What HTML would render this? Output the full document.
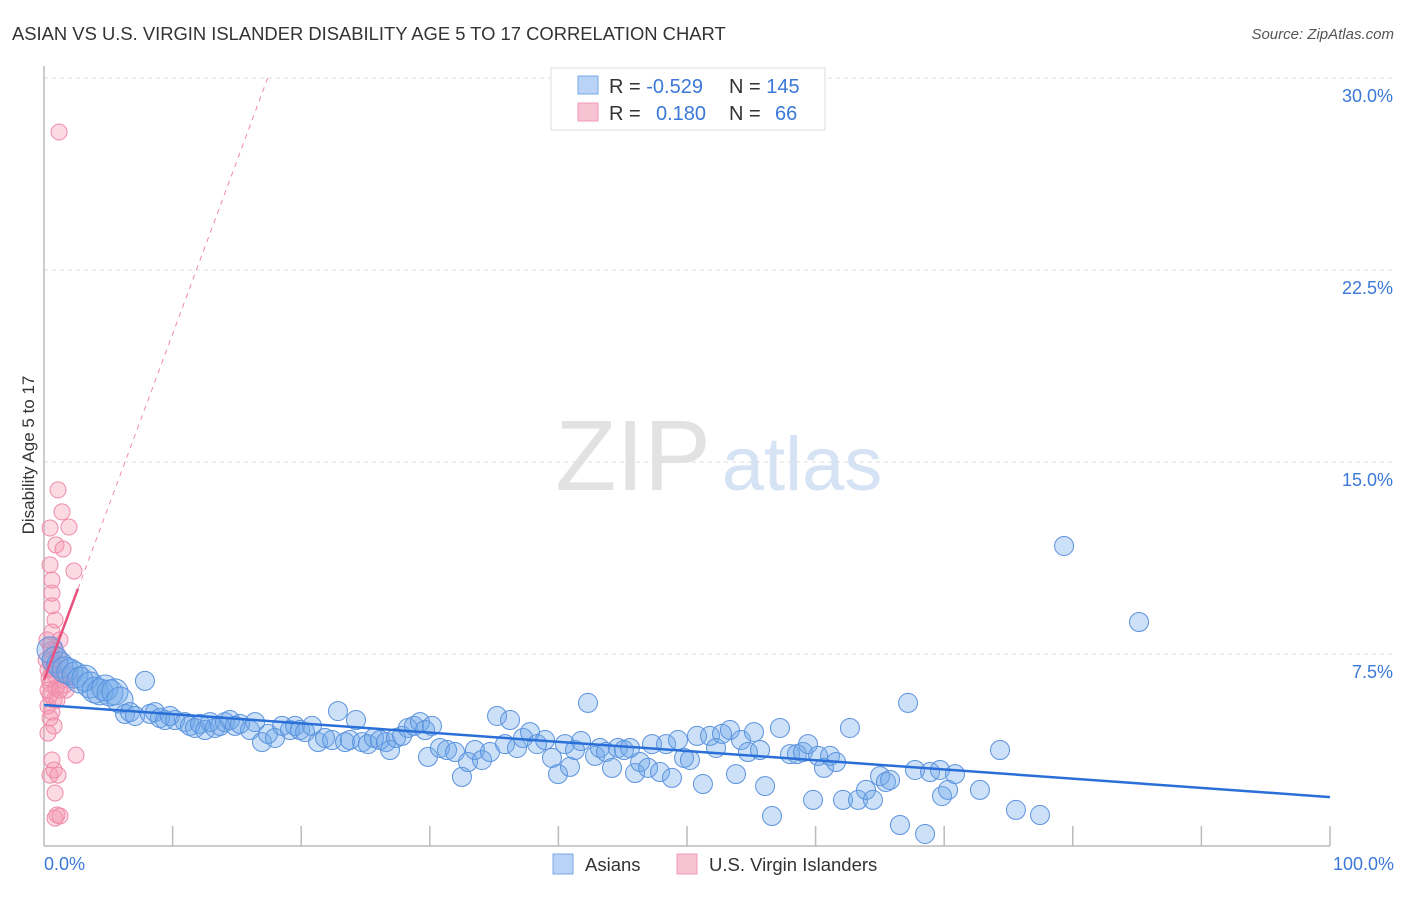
<!DOCTYPE html>
<html><head><meta charset="utf-8"><style>
body{margin:0;background:#fff;font-family:"Liberation Sans",sans-serif;}
svg text{font-family:"Liberation Sans",sans-serif;}
</style></head><body>
<svg id="chart" width="1406" height="892" viewBox="0 0 1406 892">
<text x="12" y="40" font-size="18.4" fill="#333">ASIAN VS U.S. VIRGIN ISLANDER DISABILITY AGE 5 TO 17 CORRELATION CHART</text>
<text x="1394" y="39" font-size="15" fill="#555" text-anchor="end" font-style="italic">Source: ZipAtlas.com</text>
<g>
<text x="633" y="490" font-size="100" fill="#e2e2e2" text-anchor="middle" font-family="Liberation Serif,serif">ZIP</text>
<text x="802" y="490" font-size="76" fill="#d5e3f5" text-anchor="middle">atlas</text>
</g>
<g id="grid"></g>
<g id="axes"></g>
<g id="pink"></g>
<g id="blue"></g>
<g id="trends"></g>
<text transform="translate(34,455) rotate(-90)" font-size="17" fill="#333" text-anchor="middle">Disability Age 5 to 17</text>
<text x="44" y="870" font-size="18" fill="#3b78d8">0.0%</text>
<text x="1394" y="870" font-size="18" fill="#3b78d8" text-anchor="end">100.0%</text>
<g>
<rect x="551" y="68" width="274" height="62" fill="#fff" stroke="#ddd"/>
<rect x="578" y="76" width="20" height="18" fill="#b8d3f5" stroke="#7aa8e8"/>
<rect x="578" y="103" width="20" height="18" fill="#f7c3d2" stroke="#f09ab4"/>
<text x="609" y="93" font-size="20" fill="#333">R = <tspan fill="#3b78d8">-0.529</tspan><tspan x="729">N = </tspan><tspan fill="#3b78d8">145</tspan></text>
<text x="609" y="120" font-size="20" fill="#333">R = <tspan x="656" fill="#3b78d8">0.180</tspan><tspan x="729">N = </tspan><tspan x="775" fill="#3b78d8">66</tspan></text>
</g>
<g>
<rect x="553" y="854" width="20" height="20" fill="#b8d3f5" stroke="#7aa8e8"/>
<text x="585" y="871" font-size="18.5" fill="#333">Asians</text>
<rect x="677" y="854" width="20" height="20" fill="#f7c3d2" stroke="#f09ab4"/>
<text x="709" y="871" font-size="18.5" fill="#333">U.S. Virgin Islanders</text>
</g>
</svg>
<script>
const yTicks=[7.5,15,22.5,30];
const yTickLabels=["7.5%","15.0%","22.5%","30.0%"];
const xTicks=[10,20,30,40,50,60,70,80,90,100];
const bluePx=[[50,650],[55,660],[60,665],[65,670],[70,672],[75,675],[80,680],[85,678],[90,685],[95,690],[100,692],[105,688],[110,693],[115,692],[120,700],[125,714],[130,712],[135,716],[145,681],[150,714],[155,712],[160,718],[165,720],[170,716],[175,720],[185,722],[190,726],[195,728],[200,724],[205,730],[210,722],[215,728],[220,726],[225,722],[230,720],[235,726],[240,724],[250,730],[255,722],[262,742],[268,734],[275,738],[282,726],[290,730],[295,726],[300,730],[305,732],[312,726],[318,742],[325,738],[332,740],[338,711],[345,742],[350,740],[356,720],[362,742],[368,744],[374,738],[380,740],[386,742],[390,750],[396,738],[402,736],[408,728],[414,726],[420,722],[425,730],[432,726],[428,757],[440,748],[447,750],[455,752],[462,777],[468,762],[475,750],[482,760],[490,752],[497,716],[505,744],[510,720],[517,748],[523,738],[530,732],[537,744],[545,740],[552,758],[558,774],[565,744],[570,767],[575,750],[581,741],[588,703],[595,756],[600,748],[606,752],[612,768],[618,748],[624,750],[630,748],[635,773],[640,762],[648,768],[652,744],[660,772],[666,744],[672,778],[678,740],[684,758],[690,760],[697,736],[703,784],[710,736],[716,748],[722,734],[730,730],[736,774],[741,740],[748,752],[754,732],[760,750],[765,786],[772,816],[780,728],[790,754],[797,754],[803,752],[808,744],[813,800],[818,756],[824,768],[830,756],[836,762],[843,800],[850,728],[858,800],[866,790],[873,800],[880,776],[886,782],[890,780],[900,825],[908,703],[915,770],[925,834],[930,772],[940,770],[942,796],[948,790],[955,774],[980,790],[1000,750],[1016,810],[1040,815],[1064,546],[1139,622]];
const pinkPx=[[59,132],[58,490],[62,512],[69,527],[50,528],[56,545],[63,549],[50,565],[74,571],[52,580],[52,593],[52,606],[55,620],[52,632],[60,640],[50,645],[55,650],[58,655],[52,660],[60,665],[48,670],[55,675],[62,680],[50,684],[56,688],[66,690],[50,695],[54,700],[48,706],[52,712],[50,718],[54,726],[48,733],[76,755],[52,760],[54,770],[50,775],[58,775],[55,793],[57,815],[55,818],[60,816],[48,690],[46,660],[70,675],[65,685],[47,640],[53,668],[49,678],[57,700],[51,650],[60,690]];
const blueX=bluePx.map(p=>+((p[0]-44)/12.86).toFixed(2));
const blueY=bluePx.map(p=>+((846-p[1])/25.6).toFixed(2));
const pinkX=pinkPx.map(p=>+((p[0]-44)/12.86).toFixed(2));
const pinkY=pinkPx.map(p=>+((846-p[1])/25.6).toFixed(2));
const blueTrend=[5.51,1.91];
const pinkTrend=[6.48,1.352];

const NS="http://www.w3.org/2000/svg";
const sx=v=>44+v*12.86, sy=v=>846-v*25.6;
function mk(tag,attrs,parent){const e=document.createElementNS(NS,tag);for(const k in attrs)e.setAttribute(k,attrs[k]);document.getElementById(parent).appendChild(e);return e;}
yTicks.forEach((t,i)=>{
 const l=mk('line',{x1:44,x2:1394,y1:sy(t),y2:sy(t),stroke:'#ddd','stroke-dasharray':'4,4'},'grid');
 
 
 const tx=mk('text',{x:1393,y:sy(t)+24,'font-size':18,fill:'#3b78d8','text-anchor':'end'},'grid');
 tx.textContent=yTickLabels[i];
 
 
});
const ya=mk('line',{x1:44,x2:44,y1:66,y2:846,stroke:'#bbb','stroke-width':1.5},'axes');


const xa=mk('line',{x1:44,x2:1330,y1:846,y2:846,stroke:'#bbb','stroke-width':1.5},'axes');


xTicks.forEach(t=>{
 const l=mk('line',{x1:sx(t),x2:sx(t),y1:826,y2:846,stroke:'#bbb','stroke-width':1.5},'axes');
 
 
});
pinkX.forEach((x,i)=>{
 const c=mk('circle',{cx:sx(x),cy:sy(pinkY[i]),r:8,fill:'rgba(244,150,178,0.35)',stroke:'#f08aa8','stroke-width':1},'pink');
 
 
});
blueX.forEach((x,i)=>{
 const r=x<6?13:9.5;
 const c=mk('circle',{cx:sx(x),cy:sy(blueY[i]),r:r,fill:'rgba(110,165,232,0.35)',stroke:'#5b93de','stroke-width':1},'blue');
 
 
});
const bt=mk('line',{x1:sx(0),y1:sy(blueTrend[0]),x2:sx(100),y2:sy(blueTrend[1]),stroke:'#2a6fd8','stroke-width':2.5},'trends');


const xEnd=(30-pinkTrend[0])/pinkTrend[1];
const pd=mk('line',{x1:sx(2.64),y1:sy(pinkTrend[0]+pinkTrend[1]*2.64),x2:sx(xEnd),y2:sy(30),stroke:'#f08aa8','stroke-width':1,'stroke-dasharray':'5,5'},'trends');


const ps=mk('line',{x1:sx(0),y1:sy(pinkTrend[0]),x2:sx(2.64),y2:sy(pinkTrend[0]+pinkTrend[1]*2.64),stroke:'#e8507e','stroke-width':2.5},'trends');


</script>
</body></html>
